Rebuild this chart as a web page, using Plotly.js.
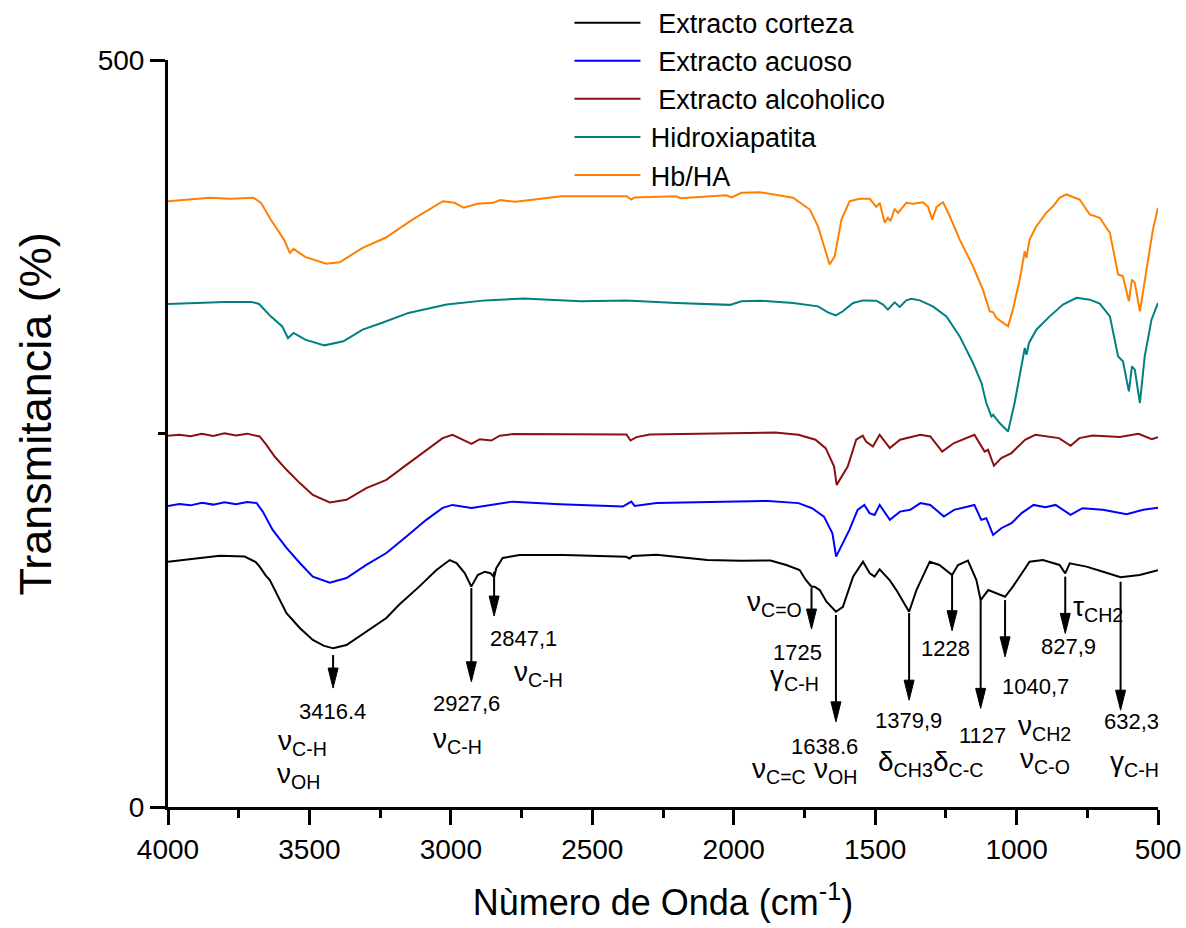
<!DOCTYPE html>
<html>
<head>
<meta charset="utf-8">
<script src="https://cdn.plot.ly/plotly-3.0.1.min.js"></script>
<style>
  html, body { margin: 0; padding: 0; background: #ffffff; }
  #chart { width: 1186px; height: 928px; }
</style>
</head>
<body>
<div id="chart"></div>
<script>
// FTIR spectra: wavenumber (cm-1) and transmittance (%, stacked with offsets)

const wnCorteza = [4000,3900,3817,3729,3690,3676,3655,3640,3610,3581,3534,3488,3450,3416.4,3369,3299,3228,3184,3112,3051,3004,2980,2951,2927.6,2905,2880,2860,2847.1,2839,2817,2757,2600,2500,2380,2368,2358,2273,2093,1974,1870,1814,1767,1745,1725,1714,1696,1672,1638.6,1614,1578,1543,1519,1502,1484,1449,1425,1379.9,1354,1307,1273,1228,1207,1172,1142,1127,1100,1040.7,1013,954,907,848,827.9,812,753,694,632.3,565,506,500];
const tCorteza  = [164.2,166.5,168.2,167.6,164,160.9,155,151.9,141,129.8,119.8,111.8,108,106.2,108.4,117.3,126.5,135.2,147.5,158.6,165.3,163.3,156.6,147.5,155.3,157.5,156.5,153.9,160,166.7,168.7,168.7,168,167.5,166.3,168,168.9,165.3,164.9,165,162,158.6,152,147.5,147.5,145.2,137.4,130.7,134,154.2,164.2,156.4,154.2,159.1,151.9,145.2,130.7,145.2,164.2,162,155.3,162,164.9,151.9,138.5,145.2,140.7,147.5,164.2,165.3,162,156.4,163.1,160.9,157.5,153.8,155.3,158.2,158.5];

const wnAcuoso = [4000,3960,3920,3880,3840,3800,3760,3720,3687,3665,3630,3581,3534,3488,3428,3369,3299,3228,3157,3087,3029,2994,2927,2852,2781,2615,2392,2362,2350,2273,1878,1771,1723,1681,1651,1638,1591,1562,1538,1520,1502,1484,1448,1412,1376,1340,1305,1257,1221,1149,1125,1107,1083,1054,1018,982,940,898,862,809,767,695,611,552,500];
const tAcuoso  = [201.5,202.8,201.9,203.6,202.4,203.9,202.6,204.2,203.5,197.7,185.5,173.4,163.3,154.2,150.1,153.3,162,170,181,192.2,200.2,202.2,200.2,202.2,204.4,202.7,201.1,204.4,201.5,203.4,204.9,203.4,200,194.4,183.2,167.6,185.5,198.9,202.2,196.7,195.5,202.2,192.2,197.7,198.9,203.4,202.2,194.4,198.9,202.2,192.2,193.3,182.1,186.6,190,196.7,202.2,200.7,202.2,195.5,200,198.9,196,198.9,200.3];

const wnAlcoholico = [4000,3960,3920,3880,3840,3800,3760,3720,3676,3652,3623,3581,3534,3488,3428,3369,3299,3228,3157,3087,3029,2994,2957,2927,2898,2857,2827,2781,2379,2365,2344,2297,1854,1771,1711,1675,1645,1636,1597,1567,1544,1532,1508,1484,1448,1412,1340,1305,1263,1221,1149,1131,1113,1101,1080,1054,1018,970,934,850,809,778,731,635,569,522,500];
const tAlcoholico  = [248.5,249.2,248.1,249.8,248.4,250.1,248.7,249.9,248,242.4,234.6,225.7,216.8,208.9,203.8,205.6,213.4,219,229,239.1,246.9,249.1,245.8,243.1,246.2,245.3,248.5,249.6,249.3,245.3,247.6,249.3,250.7,249.1,245.8,240.2,227.9,215.6,227.9,245.8,248.5,244.6,241.3,249.1,240.2,245.8,249.1,248,237.9,243.6,249.1,243.6,237.9,239.1,228.4,233.5,236.9,245.8,249.1,246.9,241.8,246.9,248.7,247.6,249.8,246.2,247.6];

const wnHidroxiapatita = [4000,3900,3800,3705,3678,3637,3596,3576,3556,3515,3447,3380,3312,3245,3150,3015,2879,2744,2541,2379,2203,2013,1973,1908,1790,1702,1667,1639,1614,1578,1543,1496,1472,1455,1431,1413,1390,1372,1342,1296,1248,1201,1154,1124,1107,1089,1083,1060,1030,1007,989,971,965,956,930,883,836,788,741,706,670,641,624,603,592,582,564,547,523,500];
const tHidroxiapatita  = [336.7,337.5,338,338.1,336.7,328.4,321.7,313.9,317.3,312.8,309,311.7,319.5,324,330.7,336.3,339.1,340.3,338.5,339.1,337.4,336.1,338.5,338.9,337.4,335.1,331.1,329.1,331.8,337.4,339.1,338.9,336.3,332.9,337.8,334.7,339.1,340.1,339.1,335.1,328.4,315,297.2,283.8,270.4,261.4,262.5,257,251.3,270.4,288.2,307.2,302.7,310.6,319.5,328.4,336.3,340.8,339.6,336.9,328.4,301.6,298.3,278.2,294.9,292.7,270.4,301.6,326.2,337.4];

const wnHbHA = [4000,3930,3853,3780,3698,3671,3637,3590,3569,3556,3515,3441,3393,3312,3231,3136,3028,2987,2954,2906,2852,2825,2771,2609,2379,2362,2351,2203,2189,2027,2007,1973,1908,1790,1731,1702,1678,1661,1643,1619,1590,1555,1519,1496,1484,1466,1455,1446,1431,1419,1390,1366,1331,1313,1298,1283,1260,1236,1201,1154,1119,1095,1083,1071,1030,1013,989,971,965,954,930,895,871,848,824,777,741,706,670,641,624,603,592,582,564,541,518,500];
const tHbHA  = [405.5,406.6,407.8,407.2,407.8,404.4,393.2,379.8,370.9,373.6,368.2,363.7,364.6,374.3,381,393.2,405.5,404.4,401.1,403.8,404.4,406.2,405.1,408.8,408.8,406.6,408,408.8,407.5,409.5,408,411.1,411.5,407.8,399.9,388.7,373.1,363.1,368.6,393.2,405.5,407.1,407.1,401.7,404.4,391.1,394.4,392.1,400.4,397.7,404.4,403.8,404.8,401.7,393.2,401.7,404.8,395.4,379.8,361.9,346.3,331.8,331.1,327.3,321.7,332.9,353,372,367.6,379.8,388.7,397.7,402.1,407.8,410,406.6,396.6,394.4,384.3,356.4,355.2,338.5,353,350.8,331.8,359.7,386.5,401.1];

// Band assignments marked on the bark extract spectrum
const peakWn    = [3416.4, 2927.6, 2847.1, 1725, 1638.6, 1379.9, 1228, 1127, 1040.7, 827.9, 632.3];
const peakText  = ['3416.4', '2927,6', '2847,1', '1725', '1638.6', '1379,9', '1228', '1127', '1040,7', '827,9', '632,3'];
const arrowFrom = [101.7, 146.6, 157.5, 146.6, 128.5, 129.8, 155.3, 138.5, 138.5, 154.2, 150.8];
const arrowTo   = [79.6, 83.8, 127.8, 119.1, 57, 71.5, 118, 66, 100.5, 116.2, 64.8];

const modeLabels = [
  ['ν<sub>C-H</sub>', 3526, 43.4], ['ν<sub>OH</sub>', 3540, 21.3],
  ['ν<sub>C-H</sub>', 2977, 44.7],
  ['ν<sub>C-H</sub>', 2689, 89.6],
  ['ν<sub>C=O</sub>', 1855, 136.5], ['γ<sub>C-H</sub>', 1784, 87],
  ['ν<sub>C=C</sub>', 1841, 24.6], ['ν<sub>OH</sub>', 1640, 24.6],
  ['δ<sub>CH3</sub>', 1393, 29.3], ['δ<sub>C-C</sub>', 1207, 29.3],
  ['ν<sub>CH2</sub>', 900, 53.4], ['ν<sub>C-O</sub>', 900, 31.3],
  ['τ<sub>CH2</sub>', 712, 133.2],
  ['γ<sub>C-H</sub>', 582, 29.3]
];
// where each wavenumber label sits (x in cm-1, y in %)
const peakTextPos = [[3420, 63.7], [2945, 69.3], [2742, 112.9], [1773, 103.5], [1678, 40.2], [1381, 58.1], [1251, 106.2], [1119, 48.1], [933, 80.4], [816, 107.2], [593, 57]];

const FONT = 'Liberation Sans, Arial, sans-serif';
const W = 1186, H = 928;
const M = {l: 168, r: 28, t: 60, b: 121, autoexpand: false};
const X_RANGE = [4000, 500], Y_RANGE = [0, 500];
const unitsPerPxX = (X_RANGE[0] - X_RANGE[1]) / (W - M.l - M.r);
const unitsPerPxY = (Y_RANGE[1] - Y_RANGE[0]) / (H - M.t - M.b);

const series = [
  {name: '\u00a0\u2009Extracto corteza', x: wnCorteza, y: tCorteza, color: '#000000'},
  {name: '\u00a0\u2009Extracto acuoso', x: wnAcuoso, y: tAcuoso, color: '#0000ff'},
  {name: '\u00a0\u2009Extracto alcoholico', x: wnAlcoholico, y: tAlcoholico, color: '#8b1010'},
  {name: '\u2009Hidroxiapatita', x: wnHidroxiapatita, y: tHidroxiapatita, color: '#008080'},
  {name: '\u2009Hb/HA', x: wnHbHA, y: tHbHA, color: '#ff8000'}
];

const traces = series.map(s => ({
  type: 'scatter', mode: 'lines', name: s.name, x: s.x, y: s.y,
  line: {color: s.color, width: 2}, hoverinfo: 'skip'
}));

// arrows: shaft plus a long filled head pointing down
const headLen = 20 * unitsPerPxY, headHalf = 5 * unitsPerPxX;
const shapes = [];
peakWn.forEach((w, i) => {
  shapes.push({type: 'line', xref: 'x', yref: 'y', x0: w, x1: w, y0: arrowFrom[i], y1: arrowTo[i] + headLen * 0.5,
    line: {color: '#000', width: 2}});
  shapes.push({type: 'path', xref: 'x', yref: 'y',
    path: `M${w - headHalf},${arrowTo[i] + headLen} L${w + headHalf},${arrowTo[i] + headLen} L${w},${arrowTo[i]} Z`,
    fillcolor: '#000', line: {color: '#000', width: 1}});
});

const numFont = {family: FONT, size: 22, color: '#000'};
const modeFont = {family: FONT, size: 28, color: '#000'};
const annotations = [];
peakText.forEach((t, i) => {
  annotations.push({text: t, x: peakTextPos[i][0], y: peakTextPos[i][1], xref: 'x', yref: 'y',
    showarrow: false, xanchor: 'center', yanchor: 'middle', font: numFont});
});
modeLabels.forEach(m => {
  annotations.push({text: m[0], x: m[1], y: m[2], xref: 'x', yref: 'y',
    showarrow: false, xanchor: 'center', yanchor: 'middle', font: modeFont});
});
// vertical axis title, centred a little above the middle of the axis
annotations.push({text: 'Transmitancia (%)', xref: 'paper', yref: 'paper', x: -0.1343, y: 0.5254,
  xanchor: 'center', yanchor: 'middle', textangle: -90, showarrow: false,
  font: {family: FONT, size: 45, color: '#000'}});

const axisCommon = {
  showline: true, linecolor: '#000', linewidth: 3, mirror: false,
  showgrid: false, zeroline: false,
  ticks: 'outside', ticklen: 15, tickwidth: 3, tickcolor: '#000',
  tickfont: {family: FONT, size: 28, color: '#000'},
  automargin: false, fixedrange: true
};

const layout = {
  width: W, height: H,
  margin: M,
  paper_bgcolor: '#fff', plot_bgcolor: '#fff',
  showlegend: true,
  legend: {
    x: 0.4055, y: 1.0822, xanchor: 'left', yanchor: 'top',
    font: {family: FONT, size: 27, color: '#000'},
    bgcolor: 'rgba(0,0,0,0)', borderwidth: 0, itemwidth: 66, tracegroupgap: 0
  },
  xaxis: Object.assign({}, axisCommon, {
    range: X_RANGE, autorange: false, tick0: 0, dtick: 500,
    minor: {dtick: 250, ticks: 'outside', ticklen: 8, tickwidth: 3, tickcolor: '#000'},
    title: {text: 'Nùmero de Onda (cm<sup>-1</sup>)', font: {family: FONT, size: 36, color: '#000'}, standoff: 27}
  }),
  yaxis: Object.assign({}, axisCommon, {
    range: Y_RANGE, autorange: false, tick0: 0, dtick: 500,
    minor: {dtick: 250, ticks: 'outside', ticklen: 7, tickwidth: 3, tickcolor: '#000'}
  }),
  shapes: shapes,
  annotations: annotations,
  hovermode: false
};

Plotly.newPlot('chart', traces, layout, {displayModeBar: false, staticPlot: true});
</script>
</body>
</html>
